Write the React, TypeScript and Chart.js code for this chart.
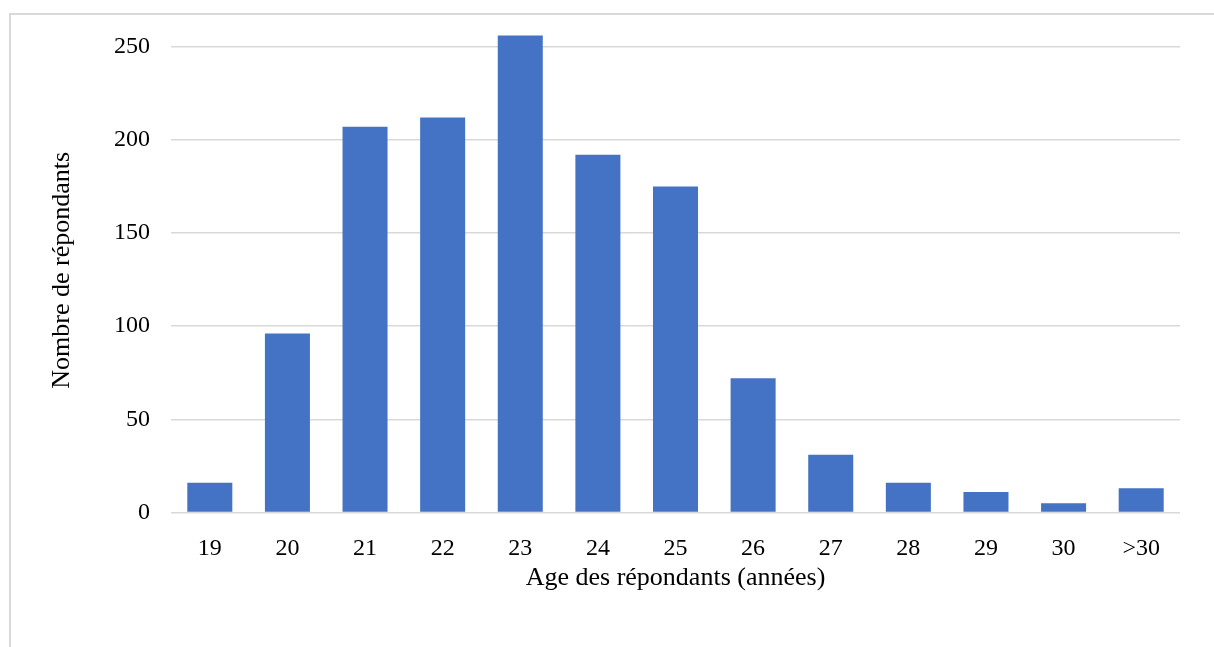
import React, { useEffect, useRef } from "react";
import { Chart, registerables } from "chart.js";

Chart.register(...registerables);

const categories = ["19", "20", "21", "22", "23", "24", "25", "26", "27", "28", "29", "30", ">30"];
const respondents = [16, 96, 207, 212, 256, 192, 175, 72, 31, 16, 11, 5, 13];
const yTickStep = 50;
const yMax = 260;
const xTitle = "Age des répondants (années)";
const yTitle = "Nombre de répondants";

const FONT = "'Liberation Serif', 'Times New Roman', serif";

const frame = {
  id: "frame",
  beforeDraw(chart: any) {
    const ctx = chart.ctx;
    ctx.save();
    ctx.fillStyle = "#ffffff";
    ctx.fillRect(0, 0, chart.width, chart.height);
    ctx.fillStyle = "#d9d9d9";
    ctx.fillRect(9, 13, 2, chart.height - 13);
    ctx.fillRect(9, 13, chart.width - 9, 2);
    ctx.restore();
  },
};

export default function App() {
  const ref = useRef<HTMLCanvasElement | null>(null);
  useEffect(() => {
    if (!ref.current) return;
    const chart = new Chart(ref.current, {
      type: "bar",
      data: {
        labels: categories,
        datasets: [
          {
            data: respondents,
            backgroundColor: "#4472C4",
            borderWidth: 0,
            barPercentage: 0.58,
            categoryPercentage: 1,
          },
        ],
      },
      options: {
        animation: false,
        responsive: false,
        maintainAspectRatio: false,
        layout: { padding: { left: 0, right: 34, top: 28, bottom: 0 } },
        plugins: { legend: { display: false }, tooltip: { enabled: false } },
        scales: {
          x: {
            grid: { display: false },
            border: { display: false },
            ticks: { color: "#000", font: { family: FONT, size: 24 }, padding: 14, maxRotation: 0 },
            title: {
              display: true,
              text: xTitle,
              color: "#000",
              font: { family: FONT, size: 26 },
              padding: { top: 0, bottom: 53 },
            },
            afterFit: (s: any) => {
              s.height = 134.5;
              s.paddingLeft = 0;
              s.paddingRight = 0;
            },
          },
          y: {
            min: 0,
            max: yMax,
            border: { display: false },
            grid: { color: "#d9d9d9", lineWidth: 1.5, drawTicks: false },
            ticks: {
              stepSize: yTickStep,
              includeBounds: false,
              color: "#000",
              font: { family: FONT, size: 24 },
              padding: 21,
            },
            title: {
              display: true,
              text: yTitle,
              color: "#000",
              font: { family: FONT, size: 26 },
              padding: { top: 47, bottom: 0 },
            },
            afterFit: (s: any) => {
              s.width = 171;
              s.paddingTop = 0;
              s.paddingBottom = 0;
            },
          },
        },
      },
      plugins: [frame],
    });
    return () => chart.destroy();
  }, []);
  return (
    <div style={{ position: "absolute", left: 0, top: 0, width: 1214, height: 647 }}>
      <canvas ref={ref} width={1214} height={647} style={{ width: 1214, height: 647 }} />
    </div>
  );
}
